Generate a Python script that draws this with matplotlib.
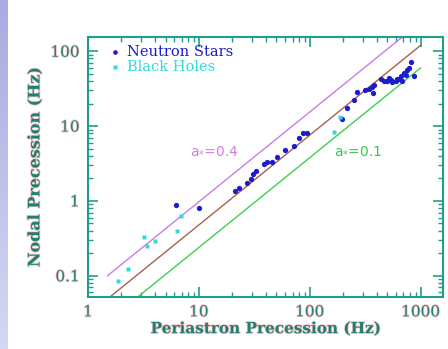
import numpy as np
import matplotlib
matplotlib.use("Agg")
import matplotlib.pyplot as plt
from matplotlib.ticker import LogLocator, NullFormatter, FixedLocator, FixedFormatter
from matplotlib.colors import LinearSegmentedColormap
import matplotlib.patheffects as pe

# ---------------- data ----------------
ns_x = [6.2, 10.1, 21.3, 23, 27.2, 29.5, 30.8, 33, 38.4, 41, 45.6, 50.6, 60, 71.6,
        79.4, 87, 94.6, 195, 217, 253, 267, 318, 340, 370, 378, 365,
        466, 499, 535, 554, 593, 635, 658, 705, 757, 811, 681, 871, 440, 520, 610, 730, 780]
ns_y = [0.88, 0.80, 1.36, 1.5, 1.74, 1.99, 2.3, 2.5, 3.08, 3.35, 3.28, 3.86, 4.74, 5.36,
        7.0, 8.07, 8.07, 12.3, 17.4, 22, 28.4, 30.5, 31, 27.5, 35.6, 33,
        40.6, 39.5, 41.5, 38.6, 40.6, 42.9, 46, 51, 56.5, 71, 40.6, 46, 42, 44, 43, 48, 60]

bh_x = [1.88, 2.28, 3.2, 3.4, 4.03, 6.4, 6.9, 164, 186]
bh_y = [0.085, 0.124, 0.325, 0.25, 0.293, 0.40, 0.63, 8.3, 13.2]

line_x = [1.5, 1000]
line_a04 = [0.1, 245]
line_a02 = [0.049, 120]
line_a01 = [0.0245, 60]

xticks = [1, 10, 100, 1000]
xlabels = ["1", "10", "100", "1000"]
yticks = [0.1, 1, 10, 100]
ylabels = ["0.1", "1", "10", "100"]

legend_labels = ["Neutron Stars", "Black Holes"]

# ---------------- style ----------------
frame_col = "#1f9e8e"
text_col = "#1e7f72"
ns_col = "#1c1ccc"
bh_col = "#35d8dc"
halo = [pe.withStroke(linewidth=1.2, foreground="#f4c8c8")]

fig = plt.figure(figsize=(4.48, 3.49), dpi=100)
fig.patch.set_facecolor("white")

# lavender strip on the left
sax = fig.add_axes([0, 0, 7 / 448, 1])
grad = np.linspace(0, 1, 100).reshape(-1, 1)
cm = LinearSegmentedColormap.from_list("lav", ["#a9abe0", "#d6d7f2"])
sax.imshow(grad, aspect="auto", cmap=cm, extent=[0, 1, 0, 1])
sax.axis("off")

ax = fig.add_axes([88 / 448, 1 - 297 / 349, (443 - 88) / 448, (297 - 37) / 349])
ax.set_xscale("log")
ax.set_yscale("log")
ax.set_xlim(1, 1590)
ax.set_ylim(0.052, 155)

ax.plot(line_x, line_a04, color="#c77ee6", lw=1.0)
ax.plot(line_x, line_a02, color="#a8604f", lw=1.0)
ax.plot(line_x, line_a01, color="#3ed04a", lw=1.0)

ax.plot(ns_x, ns_y, "o", color=ns_col, ms=3.8, mec="none")
ax.plot(bh_x, bh_y, "s", color=bh_col, ms=3.0, mec="none")

ax.text(8.3, 4.75, r"a$_{*}$=0.4", color="#d47ee0", fontsize=10, family="DejaVu Sans",
        va="center", ha="left")
ax.text(164, 4.75, r"a$_{*}$=0.1", color="#3ec84a", fontsize=10, family="DejaVu Sans",
        va="center", ha="left")

# legend drawn by hand
for (yy, lab, col, mk, ms) in [(0.943, legend_labels[0], ns_col, "o", 3.3),
                               (0.886, legend_labels[1], bh_col, "s", 2.8)]:
    ax.plot([0.076], [yy], mk, color=col, ms=ms, mec="none", transform=ax.transAxes,
            clip_on=False)
    ax.text(0.110, yy, lab, color=col, fontsize=10.5, family="DejaVu Serif",
            transform=ax.transAxes, va="center", ha="left")

for s in ax.spines.values():
    s.set_color(frame_col)
    s.set_linewidth(1.5)

ax.xaxis.set_major_locator(FixedLocator(xticks))
ax.xaxis.set_major_formatter(FixedFormatter(xlabels))
ax.yaxis.set_major_locator(FixedLocator(yticks))
ax.yaxis.set_major_formatter(FixedFormatter(ylabels))
ax.xaxis.set_minor_locator(LogLocator(base=10, subs=np.arange(2, 10)))
ax.yaxis.set_minor_locator(LogLocator(base=10, subs=np.arange(2, 10)))
ax.xaxis.set_minor_formatter(NullFormatter())
ax.yaxis.set_minor_formatter(NullFormatter())
ax.tick_params(which="both", direction="in", top=True, right=True, color=frame_col)
ax.tick_params(which="major", length=7, width=1.2, labelsize=11, labelcolor=text_col, pad=6)
ax.tick_params(which="minor", length=3.5, width=1.0)
for lab in ax.get_xticklabels() + ax.get_yticklabels():
    lab.set_family("DejaVu Serif")
    lab.set_path_effects(halo)

ax.set_xlabel("Periastron Precession (Hz)", fontsize=11, family="DejaVu Serif",
              weight="bold", color=text_col, labelpad=2, path_effects=halo)
ax.set_ylabel("Nodal Precession (Hz)", fontsize=11.5, family="DejaVu Serif",
              weight="bold", color=text_col, labelpad=5, path_effects=halo)

fig.savefig("out.png", dpi=100)
